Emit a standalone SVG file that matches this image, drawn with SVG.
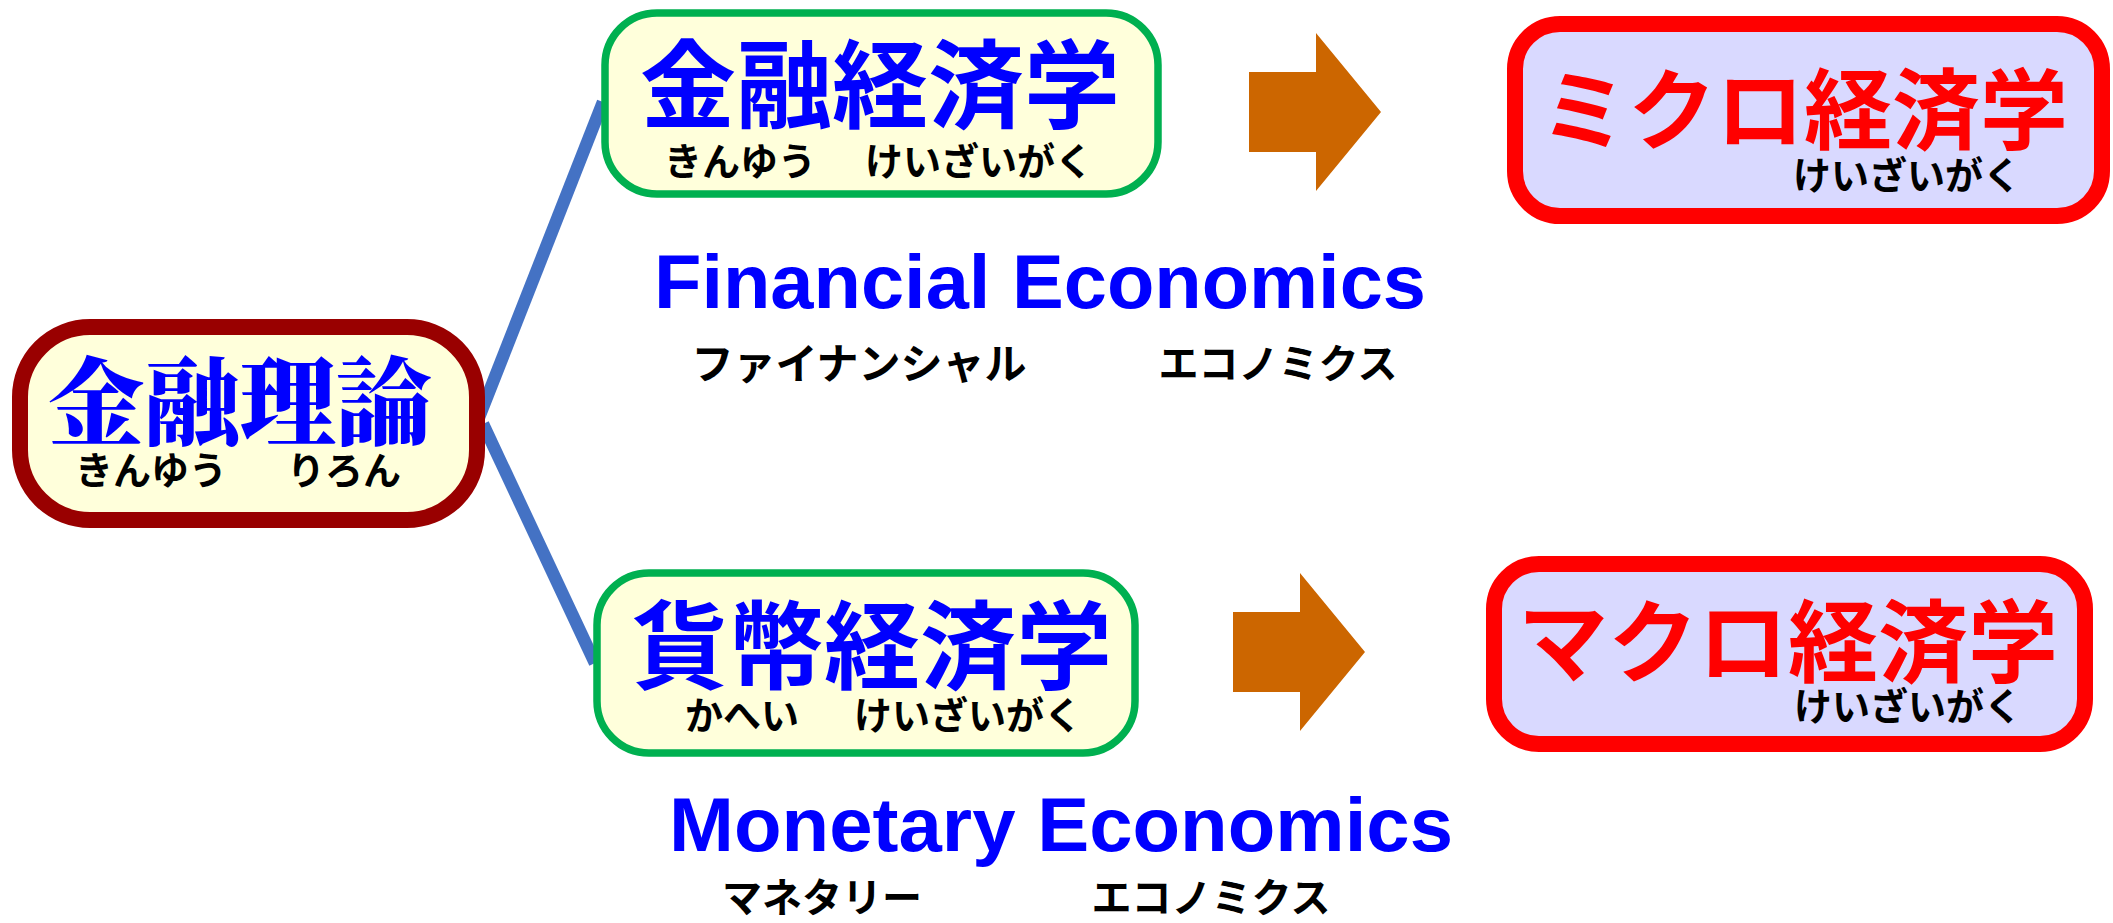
<svg xmlns="http://www.w3.org/2000/svg" width="2113" height="923" viewBox="0 0 2113 923">
<style>
.root{fill:#FFFFDB;stroke:#990000;stroke-width:16}
.green{fill:#FFFFDB;stroke:#00B050;stroke-width:7.5}
.red{fill:#D9D9FF;stroke:#FF0000;stroke-width:16}
.tb{font-family:"Noto Sans CJK JP",sans-serif;font-weight:700;fill:#0000FF;text-anchor:middle}
.ts{font-family:"Noto Serif CJK JP","Noto Sans CJK JP",serif;font-weight:900;fill:#0000FF;text-anchor:middle}
.tr{font-family:"Noto Sans CJK JP",sans-serif;font-weight:700;fill:#FF0000;text-anchor:middle}
.fu{font-family:"Noto Sans CJK JP",sans-serif;font-weight:700;fill:#000;text-anchor:middle;font-size:38px}
.en{font-family:"Liberation Sans",Arial,sans-serif;font-weight:700;fill:#0000FF;font-size:76px}
.arrow{fill:#CC6600}
.conn{stroke:#4472C4;stroke-width:12.5;fill:none;stroke-linecap:butt}
</style>
<g id="connectors">
<line class="conn" x1="478" y1="420" x2="603" y2="102"/>
<line class="conn" x1="483" y1="424" x2="595" y2="663"/>
<polygon class="arrow" points="1249,72 1316,72 1316,33 1381,112 1316,191 1316,152 1249,152"/>
<polygon class="arrow" points="1233,612 1300,612 1300,573 1365,652 1300,731 1300,692 1233,692"/>
</g>
<g id="node-root">
<rect class="root" x="20" y="327" width="457" height="193" rx="70" ry="70"/>
<text class="ts" x="240" y="437" font-size="96">金融理論</text>
<text class="fu" x="151" y="484">きんゆう</text>
<text class="fu" x="344" y="484">りろん</text>
</g>
<g id="node-financial">
<rect class="green" x="605" y="13" width="553" height="181" rx="52" ry="52"/>
<text class="tb" x="880" y="120" font-size="96">金融経済学</text>
<text class="fu" x="740" y="175">きんゆう</text>
<text class="fu" x="979" y="175">けいざいがく</text>
</g>
<g id="node-monetary">
<rect class="green" x="597" y="573" width="538" height="180" rx="52" ry="52"/>
<text class="tb" x="872" y="681" font-size="96">貨幣経済学</text>
<text class="fu" x="742" y="729">かへい</text>
<text class="fu" x="968" y="729">けいざいがく</text>
</g>
<g id="node-micro">
<rect class="red" x="1515" y="24" width="587" height="192" rx="45" ry="45"/>
<text class="tr" x="1804" y="142" font-size="88">ミクロ経済学</text>
<text class="fu" x="1907" y="189">けいざいがく</text>
</g>
<g id="node-macro">
<rect class="red" x="1494" y="564" width="591" height="180" rx="45" ry="45"/>
<text class="tr" x="1788" y="675" font-size="90">マクロ経済学</text>
<text class="fu" x="1908" y="720">けいざいがく</text>
</g>
<g id="label-financial">
<text class="en" x="654" y="308" textLength="772" lengthAdjust="spacingAndGlyphs">Financial Economics</text>
<text class="fu" x="859" y="379" style="font-size:42px">ファイナンシャル</text>
<text class="fu" x="1278" y="378" style="font-size:40px">エコノミクス</text>
</g>
<g id="label-monetary">
<text class="en" x="669" y="851" textLength="784" lengthAdjust="spacingAndGlyphs">Monetary Economics</text>
<text class="fu" x="822" y="912" style="font-size:40px">マネタリー</text>
<text class="fu" x="1211" y="912" style="font-size:40px">エコノミクス</text>
</g>
</svg>
